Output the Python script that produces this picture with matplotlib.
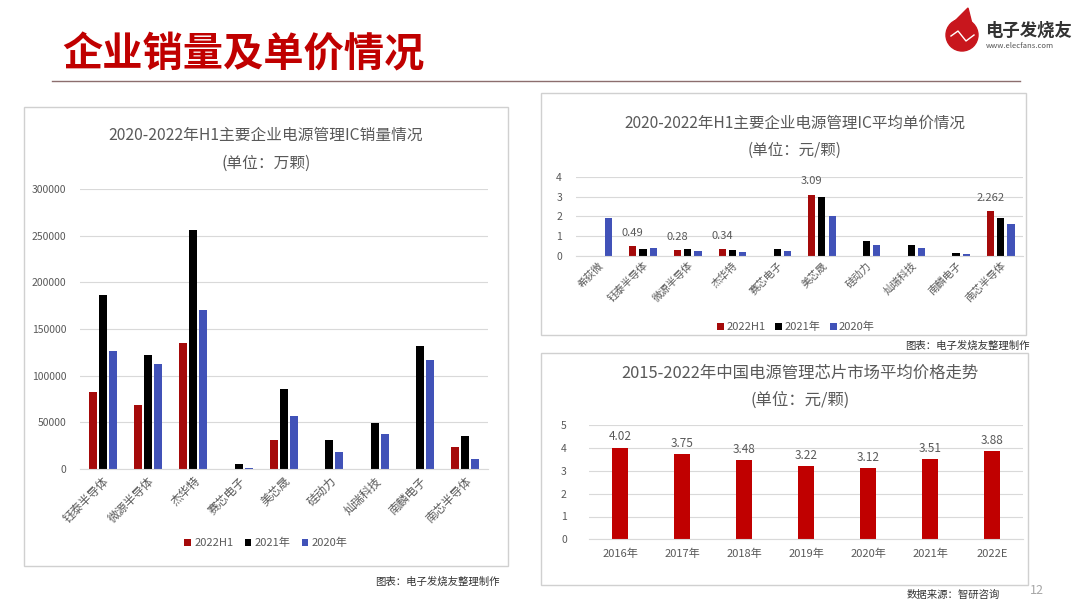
import matplotlib
matplotlib.use('Agg')

import matplotlib.pyplot as plt
import numpy as np
from matplotlib.patches import Rectangle, Ellipse, Polygon

plt.rcParams['font.family'] = ['Noto Sans CJK SC', 'DejaVu Sans']

# ---- data ----
sales_companies = ['钰泰半导体', '微源半导体', '杰华特', '赛芯电子', '美芯晟',
                   '硅动力', '灿瑞科技', '南麟电子', '南芯半导体']
sales_2022h1 = [82000, 69000, 135000, 0, 31000, 0, 0, 0, 24000]
sales_2021 = [186000, 122000, 256000, 5000, 85500, 31000, 49000, 131500, 35000]
sales_2020 = [126000, 112000, 170000, 1500, 56500, 18500, 37500, 116500, 10500]

price_companies = ['希荻微', '钰泰半导体', '微源半导体', '杰华特', '赛芯电子', '美芯晟',
                   '硅动力', '灿瑞科技', '南麟电子', '南芯半导体']
price_2022h1 = [0, 0.49, 0.28, 0.34, 0, 3.09, 0, 0, 0, 2.262]
price_2021 = [0, 0.35, 0.35, 0.29, 0.35, 2.96, 0.74, 0.57, 0.15, 1.93]
price_2020 = [1.90, 0.40, 0.27, 0.18, 0.27, 2.02, 0.57, 0.39, 0.10, 1.63]
price_labels = ['', '0.49', '0.28', '0.34', '', '3.09', '', '', '', '2.262']

years = ['2016年', '2017年', '2018年', '2019年', '2020年', '2021年', '2022E']
avg_price = [4.02, 3.75, 3.48, 3.22, 3.12, 3.51, 3.88]

series_names = ['2022H1', '2021年', '2020年']

W, H = 1080, 608
RED = '#A50A0A'
BLUE = '#4152B8'
GRAY = '#595959'
GRID = '#D9D9D9'

fig = plt.figure(figsize=(W / 100, H / 100), dpi=100)
fig.patch.set_facecolor('white')


def rect(x0, y0, x1, y1):
    return [x0 / W, 1 - y1 / H, (x1 - x0) / W, (y1 - y0) / H]


def fx(x):
    return x / W


def fy(y):
    return 1 - y / H


def panel(x0, y0, x1, y1):
    fig.patches.append(Rectangle((fx(x0), fy(y1)), (x1 - x0) / W, (y1 - y0) / H,
                                 transform=fig.transFigure, fill=False,
                                 edgecolor='#D0D0D0', lw=1))


def style_axes(ax):
    for s in ['top', 'right', 'left']:
        ax.spines[s].set_visible(False)
    ax.spines['bottom'].set_color(GRID)
    ax.yaxis.grid(True, color=GRID, lw=0.8)
    ax.set_axisbelow(True)
    ax.tick_params(axis='both', length=0, colors=GRAY)


# ---- header ----
fig.text(fx(62), fy(55), '企业销量及单价情况', fontsize=29, fontweight='heavy',
         color='#C00000', va='center', ha='left')
fig.add_artist(plt.Line2D([fx(52), fx(1020)], [fy(81), fy(81)], color='#8C6E6E', lw=1))

# logo
fig.patches.append(Polygon([(fx(954), fy(22)), (fx(968), fy(8)), (fx(972), fy(24))],
                           closed=True, transform=fig.transFigure, color='#C8161D'))
fig.patches.append(Ellipse((fx(962), fy(35)), 32 / W, 32 / H, transform=fig.transFigure,
                           color='#C8161D'))
fig.add_artist(plt.Line2D([fx(951), fx(958), fx(966), fx(974)],
                          [fy(36), fy(31), fy(41), fy(35)], color='white', lw=1))
fig.text(fx(985), fy(31), '电子发烧友', fontsize=12.5, fontweight='bold',
         color='#333333', va='center', ha='left')
fig.text(fx(986), fy(46), 'www.elecfans.com', fontsize=5.5, color='#555555',
         va='center', ha='left')
fig.text(fx(1030), fy(590), '12', fontsize=9, color='#A6A6A6', va='center', ha='left')

# ---- left chart: sales ----
panel(24, 107, 508, 566)
fig.text(fx(266), fy(135), '2020-2022年H1主要企业电源管理IC销量情况', fontsize=11.3,
         color=GRAY, ha='center', va='center')
fig.text(fx(266), fy(163), '(单位：万颗)', fontsize=11.3, color=GRAY,
         ha='center', va='center')
ax1 = fig.add_axes(rect(80, 189, 488, 469))
x = np.arange(len(sales_companies))
bw, sp = 0.18, 0.22
b1 = ax1.bar(x - sp, sales_2022h1, bw, color=RED, label=series_names[0])
b2 = ax1.bar(x, sales_2021, bw, color='black', label=series_names[1])
b3 = ax1.bar(x + sp, sales_2020, bw, color=BLUE, label=series_names[2])
ax1.set_xlim(-0.5, len(x) - 0.5)
ax1.set_ylim(0, 300000)
ax1.set_yticks(np.arange(0, 300001, 50000))
ax1.set_xticks(x)
ax1.set_xticklabels(sales_companies, rotation=45, ha='right', rotation_mode='anchor',
                    fontsize=8.5)
ax1.tick_params(axis='y', labelsize=7.5, pad=10)
ax1.tick_params(axis='x', pad=4)
style_axes(ax1)
fig.legend(handles=[b1, b2, b3], loc='center', bbox_to_anchor=(fx(266), fy(543)),
           ncol=3, frameon=False, fontsize=8, handlelength=0.6, handleheight=0.6,
           handletextpad=0.3, columnspacing=1.0, labelcolor=GRAY)
fig.text(fx(500), fy(582), '图表：电子发烧友整理制作', fontsize=7.5, color='#333333',
         ha='right', va='center')

# ---- middle-right chart: unit price ----
panel(541, 93, 1026, 335)
fig.text(fx(795), fy(123), '2020-2022年H1主要企业电源管理IC平均单价情况', fontsize=11.2,
         color=GRAY, ha='center', va='center')
fig.text(fx(795), fy(150), '(单位：元/颗)', fontsize=11.2, color=GRAY,
         ha='center', va='center')
ax2 = fig.add_axes(rect(576, 176.7, 1023, 256))
x2 = np.arange(len(price_companies))
bw2, sp2 = 0.16, 0.23
c1 = ax2.bar(x2 - sp2, price_2022h1, bw2, color=RED, label=series_names[0])
c2 = ax2.bar(x2, price_2021, bw2, color='black', label=series_names[1])
c3 = ax2.bar(x2 + sp2, price_2020, bw2, color=BLUE, label=series_names[2])
ax2.bar_label(c1, labels=price_labels, padding=6, fontsize=8, color=GRAY)
ax2.set_xlim(-0.5, len(x2) - 0.5)
ax2.set_ylim(0, 4)
ax2.set_yticks(np.arange(0, 5, 1))
ax2.set_xticks(x2)
ax2.set_xticklabels(price_companies, rotation=45, ha='right', rotation_mode='anchor',
                    fontsize=7.5)
ax2.tick_params(axis='y', labelsize=7.5, pad=10)
ax2.tick_params(axis='x', pad=3)
style_axes(ax2)
fig.legend(handles=[c1, c2, c3], loc='center', bbox_to_anchor=(fx(796), fy(327)),
           ncol=3, frameon=False, fontsize=8, handlelength=0.6, handleheight=0.6,
           handletextpad=0.2, columnspacing=0.9, labelcolor=GRAY)
fig.text(fx(1030), fy(346), '图表：电子发烧友整理制作', fontsize=7.5, color='#333333',
         ha='right', va='center')

# ---- bottom-right chart: market average price ----
panel(541, 353, 1028, 585)
fig.text(fx(800), fy(373), '2015-2022年中国电源管理芯片市场平均价格走势', fontsize=11.8,
         color=GRAY, ha='center', va='center')
fig.text(fx(800), fy(400), '(单位：元/颗)', fontsize=11.8, color=GRAY,
         ha='center', va='center')
ax3 = fig.add_axes(rect(589, 425.3, 1023, 539.3))
x3 = np.arange(len(years))
d = ax3.bar(x3, avg_price, 0.27, color='#C00000')
ax3.bar_label(d, labels=[f'{v:.2f}' for v in avg_price], padding=3, fontsize=8.5,
              color=GRAY)
ax3.set_xlim(-0.5, len(x3) - 0.5)
ax3.set_ylim(0, 5)
ax3.set_yticks(np.arange(0, 6, 1))
ax3.set_xticks(x3)
ax3.set_xticklabels(years, fontsize=8)
ax3.tick_params(axis='y', labelsize=7.5, pad=16)
ax3.tick_params(axis='x', pad=7)
style_axes(ax3)
fig.text(fx(1000), fy(595), '数据来源：智研咨询', fontsize=7.5, color='#333333',
         ha='right', va='center')

fig.savefig('out.png', dpi=100)
